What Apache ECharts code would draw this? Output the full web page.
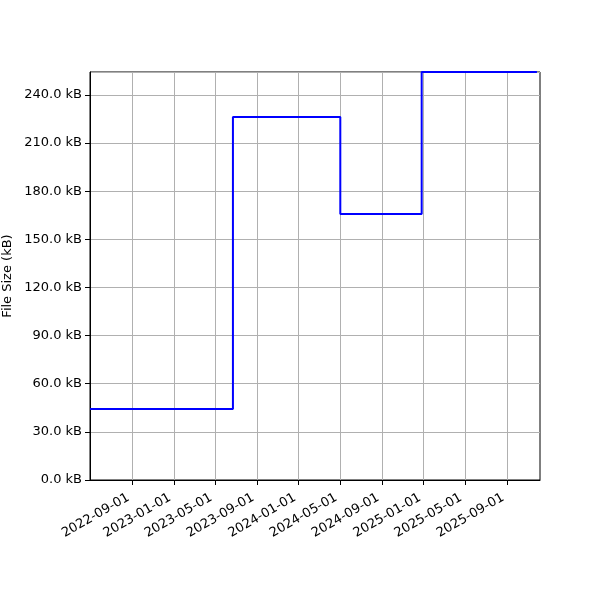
<!DOCTYPE html>
<html><head><meta charset="utf-8">
<script src="https://cdn.jsdelivr.net/npm/echarts@6/dist/echarts.min.js"></script>
<style>html,body{margin:0;padding:0;background:#fff}#c{width:600px;height:600px}</style>
</head><body><div id="c"></div>
<script>
const changeDates = ['2022-05-01','2023-06-23','2024-05-02','2024-12-26','2025-11-28'];
const sizesKB = [44.3, 226.3, 165.8, 254.3, 254.3];
const tickDates = ['2022-09-01','2023-01-01','2023-05-01','2023-09-01','2024-01-01','2024-05-01','2024-09-01','2025-01-01','2025-05-01','2025-09-01'];
const xStart = '2022-05-01', xEnd = '2025-12-07';
const yTicksMax = 254.3;

const ts = s => { const [y,m,d] = s.split('-').map(Number); return Date.UTC(y, m-1, d); };
const pad = n => String(n).padStart(2,'0');
const fmt = v => { const d = new Date(v); return d.getUTCFullYear()+'-'+pad(d.getUTCMonth()+1)+'-'+pad(d.getUTCDate()); };
const tickVals = tickDates.map(ts);
const data = changeDates.map((d,i)=>[ts(d), sizesKB[i]]);
const font = 'DejaVu Sans';

const chart = echarts.init(document.getElementById('c'), null, {renderer:'canvas'});
chart.setOption({
  animation:false,
  backgroundColor:'#fff',
  grid:{left:90, right:60, top:72, bottom:120, outerBoundsMode:'none', containLabel:false, show:true, borderColor:'#000', borderWidth:1, backgroundColor:'transparent'},
  xAxis:{
    type:'value', min:ts(xStart), max:ts(xEnd),
    axisLine:{show:true, lineStyle:{color:'#000', width:1}},
    axisTick:{show:true, inside:false, customValues:tickVals, length:5, lineStyle:{color:'#000'}},
    axisLabel:{customValues:tickVals, formatter:v=>fmt(v), rotate:30, color:'#000', fontFamily:font, fontSize:13, margin:7, verticalAlign:'top', padding:[0,8,0,0]},
    splitLine:{show:true, lineStyle:{color:'#b0b0b0', width:1}}
  },
  yAxis:{
    type:'value', min:0, max:yTicksMax, interval:30,
    name:'File Size (kB)', nameLocation:'middle', nameGap:76, nameRotate:90, nameMoveOverlap:false,
    nameTextStyle:{color:'#000', fontFamily:font, fontSize:13},
    axisLine:{show:true, lineStyle:{color:'#000', width:1}},
    axisTick:{show:true, inside:false, length:5, lineStyle:{color:'#000'}},
    axisLabel:{formatter:v=>v.toFixed(1)+' kB', color:'#000', fontFamily:font, fontSize:13, margin:8, showMaxLabel:false},
    splitLine:{show:true, lineStyle:{color:'#b0b0b0', width:1}}
  },
  series:[{
    type:'line', step:'end', data:data, showSymbol:false, clip:false,
    lineStyle:{color:'#0000ff', width:2}
  }]
});
</script></body></html>
